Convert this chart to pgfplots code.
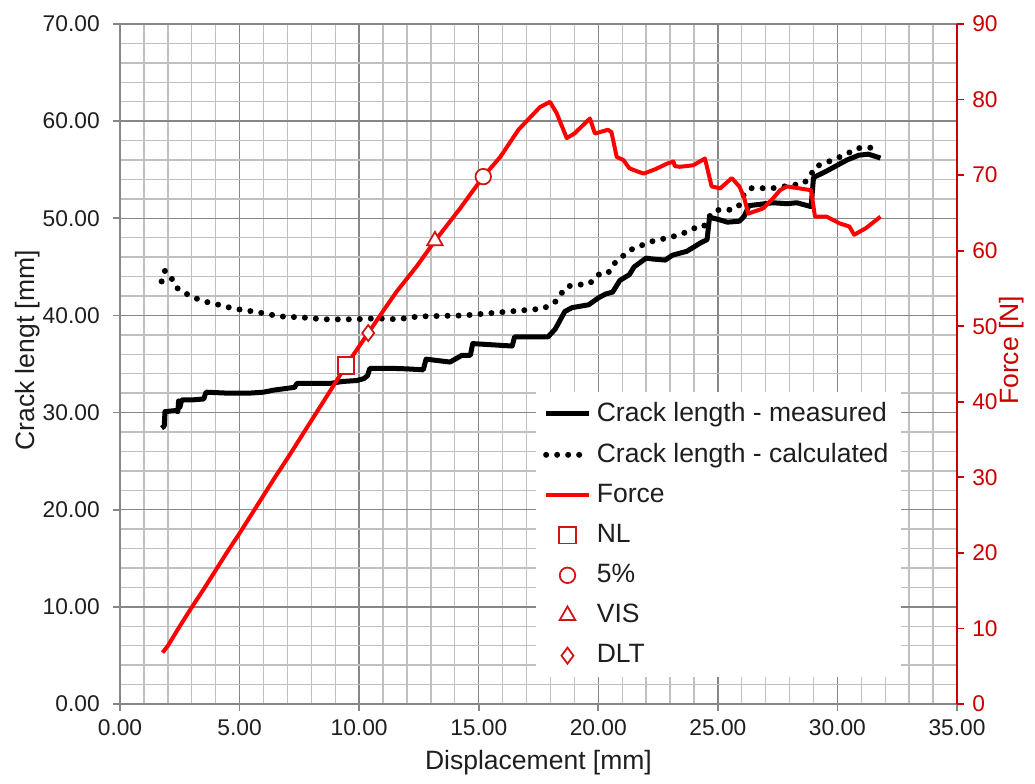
\documentclass[border=0pt]{standalone}
\usepackage{fontspec}
\setmainfont{Liberation Sans}
\usepackage{pgfplots}
\pgfplotsset{compat=1.18}

\definecolor{fred}{RGB}{255,0,0}
\definecolor{axred}{RGB}{204,0,0}
\definecolor{mkred}{RGB}{210,20,20}
\definecolor{majgrid}{RGB}{135,135,135}
\definecolor{mingrid}{RGB}{192,192,192}
\definecolor{txt}{RGB}{30,30,30}

\newcommand{\tickfont}{\fontsize{9.1}{11}\selectfont}
\newcommand{\labfont}{\fontsize{10.6}{13}\selectfont}

\pgfplotsset{
  common/.style={
    at={(0,0)}, anchor=south west,
    scale only axis, width=334.8pt, height=272pt,
    xmin=0, xmax=35,
    tick align=outside, major tick length=2.6pt, minor tick length=0pt,
    /pgf/number format/assume math mode=true,
  },
}

\begin{document}
\begin{tikzpicture}
\path[use as bounding box] (-48pt,-31.6pt) rectangle (366pt,281.6pt);

% left axis: crack length
\begin{axis}[
  common,
  ymin=0, ymax=70,
  xtick distance=5, ytick distance=10,
  minor x tick num=4, minor y tick num=4,
  grid=both,
  major grid style={majgrid, line width=0.55pt},
  minor grid style={mingrid, line width=0.55pt},
  axis x line*=bottom, axis y line*=left,
  axis line style={majgrid, line width=0.7pt, -},
  tick style={majgrid, line width=0.7pt},
  xticklabel style={font=\tickfont, text=txt, /pgf/number format/.cd, fixed, fixed zerofill, precision=2},
  yticklabel style={font=\tickfont, text=txt, xshift=-2pt, /pgf/number format/.cd, fixed, fixed zerofill, precision=2},
  xlabel={Displacement [mm]},
  ylabel={Crack lengt [mm]},
  xlabel style={font=\labfont, text=txt, at={(axis description cs:0.5,0)}, anchor=center, yshift=-23.6pt},
  ylabel style={font=\labfont, text=txt, at={(axis description cs:0,0.52)}, anchor=center, yshift=37pt},
]
% measured
\addplot[black, line width=2pt, line join=round] coordinates {
(1.74,28.4) (1.85,28.6) (1.88,30.1) (2.30,30.2) (2.42,30.1) (2.45,31.2) (2.50,30.5)
(2.58,31.3) (3.00,31.3) (3.50,31.4) (3.60,32.1) (4.50,32.0) (5.40,32.0) (6.00,32.1)
(6.40,32.3) (7.00,32.5) (7.30,32.6) (7.40,33.0) (8.80,33.0) (9.30,33.2) (9.90,33.3)
(10.20,33.5) (10.35,33.8) (10.45,34.55) (11.40,34.55) (12.00,34.5) (12.68,34.4)
(12.80,35.5) (13.80,35.2) (14.30,35.9) (14.65,35.9) (14.75,37.1) (16.40,36.85)
(16.50,37.8) (17.90,37.8) (18.20,38.6) (18.40,39.5) (18.60,40.4) (18.90,40.8)
(19.60,41.1) (20.00,41.8) (20.30,42.2) (20.60,42.4) (20.90,43.6) (21.30,44.2)
(21.50,45.0) (22.00,45.9) (22.30,45.8) (22.80,45.7) (23.10,46.2) (23.70,46.6)
(24.30,47.5) (24.55,47.8) (24.65,50.1) (25.00,49.9) (25.40,49.6) (25.90,49.7)
(26.10,50.2) (26.30,51.3) (27.30,51.6) (27.90,51.5) (28.30,51.6) (28.90,51.2)
(29.00,54.2) (29.50,54.8) (29.80,55.2) (30.40,56.0) (30.90,56.5) (31.30,56.6)
(31.80,56.2)
};
% calculated
\addplot[black, line width=2.4pt, line cap=round, dash pattern=on 0pt off 4.4pt] coordinates {
(1.74,43.5) (1.88,44.6) (2.16,43.8) (2.40,42.8) (3.00,41.9) (3.60,41.4) (4.30,41.0)
(4.75,40.7) (5.60,40.4) (6.70,39.9) (7.60,39.8) (8.50,39.6) (9.80,39.6) (10.70,39.7)
(11.60,39.6) (12.50,39.9) (14.40,40.0) (15.80,40.3) (17.20,40.6) (17.70,40.7)
(18.20,41.4) (18.40,42.1) (18.70,43.0) (19.65,43.3) (20.00,44.2) (20.40,44.3)
(20.60,45.2) (21.00,46.05) (21.30,46.7) (22.20,47.6) (23.10,48.1) (23.55,48.45)
(24.00,48.97) (24.40,49.1) (24.70,50.4) (24.95,50.85) (25.45,50.85) (25.86,51.2)
(26.10,52.5) (26.40,53.1) (27.30,53.1) (27.70,53.25) (28.60,53.6) (28.90,54.5)
(29.06,55.3) (29.60,55.8) (30.00,56.2) (30.45,56.7) (30.80,57.2) (31.30,57.3)
(31.50,57.2)
};
\end{axis}

% right axis: force
\begin{axis}[
  common,
  ymin=0, ymax=90, ytick distance=10,
  axis x line=none, axis y line*=right,
  axis line style={axred, line width=0.8pt, -},
  tick style={axred, line width=0.7pt},
  yticklabel style={font=\tickfont, text=axred},
  ylabel={Force [N]},
  ylabel style={font=\labfont, text=axred, at={(axis description cs:1,0.52)}, anchor=center, yshift=-22pt},
  legend style={at={(0.496,0.459)}, anchor=north west, draw=none, fill=white,
    font=\labfont, text=txt, row sep=3.2pt, inner xsep=3pt, inner ysep=2pt},
  legend cell align=left,
]
\addlegendimage{black, line width=2pt}
\addlegendimage{black, line width=2.4pt, line cap=round, dash pattern=on 0pt off 4.4pt}
\addplot[fred, line width=1.6pt, line join=round] coordinates {
(1.78,6.8) (2.00,7.7) (2.50,10.3) (3.00,12.8) (3.50,15.2) (4.00,17.7) (4.50,20.2)
(5.00,22.6) (5.50,25.1) (6.00,27.6) (6.50,30.1) (7.00,32.5) (7.50,35.0) (8.00,37.5)
(8.50,40.0) (9.00,42.5) (9.45,44.8) (10.38,49.1) (11.00,52.0) (11.57,54.6) (12.40,57.9)
(13.17,61.3) (14.20,65.5) (15.19,69.8) (15.90,72.4) (16.66,76.0) (17.56,79.0)
(17.98,79.7) (18.26,78.2) (18.68,74.9) (19.00,75.5) (19.65,77.5) (19.86,75.5)
(20.40,76.0) (20.55,75.7) (20.77,72.4) (21.05,72.0) (21.30,70.9) (21.67,70.45)
(21.90,70.2) (22.40,70.8) (22.86,71.5) (23.14,71.8) (23.20,71.2) (23.40,71.1)
(23.97,71.3) (24.46,72.2) (24.74,68.5) (25.10,68.25) (25.58,69.6) (25.90,68.5)
(26.10,67.0) (26.27,64.9) (26.90,65.6) (27.30,66.9) (27.60,68.0) (27.88,68.5)
(28.40,68.25) (28.90,68.0) (29.06,64.5) (29.55,64.5) (30.10,63.6) (30.50,63.2)
(30.70,62.1) (31.20,63.0) (31.80,64.5)
};
\addplot[only marks, mark=square*, mark size=3.3pt, mark options={draw=mkred, fill=white, line width=0.7pt}] coordinates {(9.45,44.8)};
\addplot[only marks, mark=*, mark size=3.1pt, mark options={draw=mkred, fill=white, line width=0.7pt}] coordinates {(15.19,69.8)};
\addplot[only marks, mark=triangle*, mark size=3.6pt, mark options={draw=mkred, fill=white, line width=0.7pt}] coordinates {(13.17,61.3)};
\addplot[only marks, mark=diamond*, mark size=3.2pt, mark options={draw=mkred, fill=white, line width=0.7pt}] coordinates {(10.38,49.1)};
\legend{Crack length - measured, Crack length - calculated, Force, NL, 5\%, VIS, DLT}
\end{axis}
\end{tikzpicture}
\end{document}
